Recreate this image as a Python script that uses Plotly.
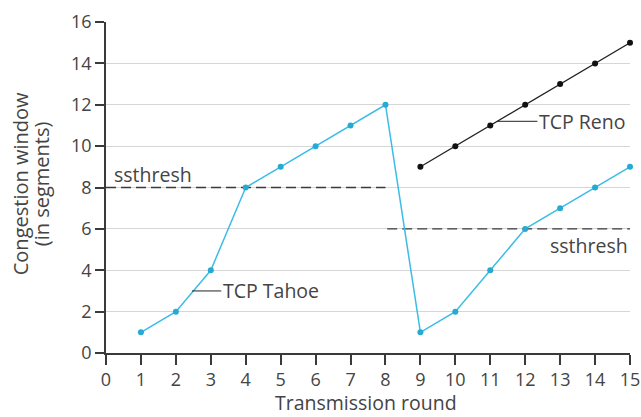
import plotly.graph_objects as go

# Data
rounds = list(range(1, 16))
tahoe_cwnd = [1, 2, 4, 8, 9, 10, 11, 12, 1, 2, 4, 6, 7, 8, 9]
reno_rounds = list(range(9, 16))
reno_cwnd = [9, 10, 11, 12, 13, 14, 15]
ssthresh_x1 = [0, 8]
ssthresh_y1 = [8, 8]
ssthresh_x2 = [8.05, 15]
ssthresh_y2 = [6, 6]
x_ticks = list(range(0, 16))
y_ticks = list(range(0, 17, 2))

cyan = "#3cbce6"
dark = "#3a3a3a"
font = "Open Sans"
grey_txt = "#444444"

fig = go.Figure()

# ssthresh lines
fig.add_trace(go.Scatter(x=ssthresh_x1, y=ssthresh_y1, mode="lines",
                         line=dict(color=dark, width=1.4, dash="10px,5px")))
fig.add_trace(go.Scatter(x=ssthresh_x2, y=ssthresh_y2, mode="lines",
                         line=dict(color=dark, width=1.4, dash="10px,5px")))

# TCP Tahoe
fig.add_trace(go.Scatter(x=rounds, y=tahoe_cwnd, mode="lines+markers",
                         line=dict(color=cyan, width=1.5),
                         marker=dict(color="#25aad4", size=6)))

# TCP Reno
fig.add_trace(go.Scatter(x=reno_rounds, y=reno_cwnd, mode="lines+markers",
                         line=dict(color="#222222", width=1.3),
                         marker=dict(color="#111111", size=6)))

# leader lines for labels
fig.add_trace(go.Scatter(x=[2.46, 3.3], y=[3, 3], mode="lines",
                         line=dict(color="#222222", width=1)))
fig.add_trace(go.Scatter(x=[11.2, 12.35], y=[11.2, 11.2], mode="lines",
                         line=dict(color="#222222", width=1)))

txt = dict(family=font, size=19.5, color=grey_txt)
fig.add_annotation(x=3.3, y=3, text="TCP Tahoe", showarrow=False,
                   xanchor="left", yanchor="middle", font=txt)
fig.add_annotation(x=12.35, y=11.2, text="TCP Reno", showarrow=False,
                   xanchor="left", yanchor="middle", font=txt)
fig.add_annotation(x=0.18, y=7.9, text="ssthresh", showarrow=False,
                   xanchor="left", yanchor="bottom", font=txt)
fig.add_annotation(x=15, y=5.2, text="ssthresh", showarrow=False,
                   xanchor="right", yanchor="middle", font=txt)

# axis titles
ttl = dict(family=font, size=20, color=grey_txt)
fig.add_annotation(xref="paper", yref="paper", x=-0.164, y=0.51,
                   text="Congestion window", textangle=-90, showarrow=False,
                   xanchor="center", yanchor="middle", font=ttl)
fig.add_annotation(xref="paper", yref="paper", x=-0.124, y=0.51,
                   text="(in segments)", textangle=-90, showarrow=False,
                   xanchor="center", yanchor="middle", font=ttl)
fig.add_annotation(xref="paper", yref="paper", x=0.496, y=-0.151,
                   text="Transmission round", showarrow=False,
                   xanchor="center", yanchor="middle",
                   font=dict(family=font, size=19.5, color=grey_txt))

fig.update_layout(
    width=641, height=417,
    margin=dict(l=106, r=11, t=22, b=64),
    paper_bgcolor="white", plot_bgcolor="white",
    showlegend=False,
    font=dict(family=font, size=18, color=grey_txt),
)
fig.update_xaxes(range=[0, 15], tickvals=x_ticks, showgrid=False,
                 showline=True, linecolor=dark, linewidth=1.5,
                 ticks="outside", ticklen=10, tickcolor=dark, tickwidth=1.5,
                 zeroline=False, automargin=False)
fig.update_yaxes(range=[0, 16], tickvals=y_ticks, showgrid=True,
                 gridcolor="#d6d6d6", gridwidth=1,
                 showline=True, linecolor=dark, linewidth=1.5,
                 ticks="outside", ticklen=9, tickcolor=dark, tickwidth=1.5,
                 zeroline=False, automargin=False)
fig.update_traces(cliponaxis=False)

# drop the page's default body margin so the figure fills the window
fig.write_html("out.html", config={"displayModeBar": False},
               post_script="document.body.style.margin='0';document.body.style.overflow='hidden';")
